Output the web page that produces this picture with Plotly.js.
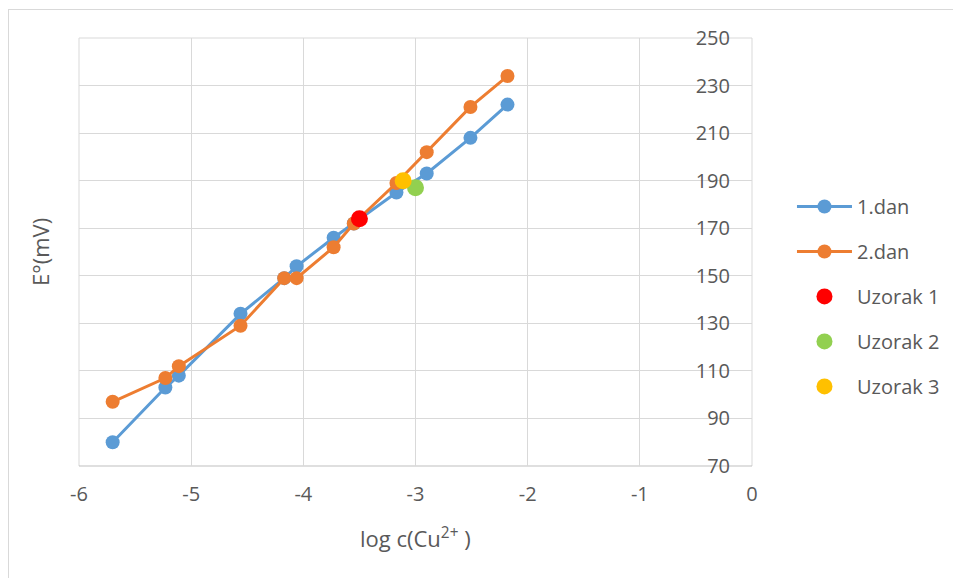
<!DOCTYPE html>
<html><head><meta charset="utf-8">
<script src="https://cdn.plot.ly/plotly-3.0.1.min.js"></script>
<style>
body{margin:0;background:#fff;}
#chart{position:absolute;left:0;top:0;width:953px;height:578px;}
#frame{position:absolute;left:8px;top:9px;width:1000px;height:700px;border-top:1px solid #D9D9D9;border-left:1px solid #D9D9D9;pointer-events:none;}
</style>
</head><body>
<div id="chart"></div><div id="frame"></div>
<script>
const logC = [-5.70, -5.23, -5.11, -4.56, -4.17, -4.06, -3.73, -3.55, -3.17, -2.90, -2.51, -2.18];
const dan1 = [80, 103, 108, 134, 149, 154, 166, 172, 185, 193, 208, 222];
const dan2 = [97, 107, 112, 129, 149, 149, 162, 172, 189, 202, 221, 234];
const uzorak1X = [-3.50], uzorak1Y = [174];
const uzorak2X = [-3.00], uzorak2Y = [187];
const uzorak3X = [-3.11], uzorak3Y = [190];
const xTickVals = [-6, -5, -4, -3, -2, -1, 0];
const xTickText = ['-6', '-5', '-4', '-3', '-2', '-1', '0'];
const yTickVals = [70, 90, 110, 130, 150, 170, 190, 210, 230, 250];

const FONT = 'Open Sans, sans-serif';
const traces = [
  {x: logC, y: dan1, name: '1.dan', mode: 'lines+markers', legendgroup: 'a',
   line: {color: '#5B9BD5', width: 3}, marker: {color: '#5B9BD5', size: 14}},
  {x: logC, y: dan2, name: '2.dan', mode: 'lines+markers', legendgroup: 'b',
   line: {color: '#ED7D31', width: 3}, marker: {color: '#ED7D31', size: 14}},
  {x: uzorak1X, y: uzorak1Y, name: 'Uzorak 1', mode: 'markers', legendgroup: 'c',
   marker: {color: '#FF0000', size: 17}},
  {x: uzorak2X, y: uzorak2Y, name: 'Uzorak 2', mode: 'markers', legendgroup: 'd',
   marker: {color: '#92D050', size: 17}},
  {x: uzorak3X, y: uzorak3Y, name: 'Uzorak 3', mode: 'markers', legendgroup: 'e',
   marker: {color: '#FFC000', size: 17}}
];

const layout = {
  width: 953, height: 578,
  margin: {l: 79, r: 201, t: 38, b: 112, pad: 0, autoexpand: false},
  paper_bgcolor: 'rgba(0,0,0,0)', plot_bgcolor: '#fff',
  font: {family: FONT, color: '#595959', size: 20},
  showlegend: true,
  legend: {x: 1.0594, xanchor: 'left', y: 0.652, yanchor: 'top', tracegroupgap: 16,
           itemwidth: 55, font: {family: FONT, size: 20, color: '#595959'},
           bgcolor: 'rgba(0,0,0,0)'},
  xaxis: {range: [-6, 0], tickvals: xTickVals, ticktext: xTickText,
          showgrid: true, gridcolor: '#D9D9D9', gridwidth: 1,
          showline: false, zeroline: false, ticks: '', ticklabelstandoff: 14,
          tickfont: {family: FONT, size: 20, color: '#595959'}},
  yaxis: {range: [70, 250], tickvals: yTickVals, side: 'left',
          anchor: 'free', position: 1, ticklabelstandoff: 22,
          showgrid: true, gridcolor: '#D9D9D9', gridwidth: 1,
          showline: false, zeroline: false, ticks: '',
          tickfont: {family: FONT, size: 20, color: '#595959'}},
  shapes: [
    {type: 'line', xref: 'paper', yref: 'paper', x0: 0, x1: 1, y0: 1, y1: 1, layer: 'below',
     line: {color: '#D9D9D9', width: 1}},
    {type: 'line', xref: 'paper', yref: 'paper', x0: 0, x1: 0, y0: 0, y1: 1, layer: 'below',
     line: {color: '#D9D9D9', width: 1}},
    {type: 'line', xref: 'paper', yref: 'paper', x0: 1, x1: 1, y0: 0, y1: 1, layer: 'below',
     line: {color: '#D9D9D9', width: 1}},
    {type: 'line', xref: 'paper', yref: 'paper', x0: 0, x1: 1, y0: 0, y1: 0, layer: 'below',
     line: {color: '#BFBFBF', width: 1}}
  ],
  annotations: [
    {text: 'E°(mV)', textangle: -90, xref: 'paper', yref: 'paper',
     x: -0.058, y: 0.5, xanchor: 'center', yanchor: 'middle', showarrow: false,
     font: {family: FONT, size: 22, color: '#595959'}},
    {text: 'log c(Cu<sup>2+</sup> )', xref: 'paper', yref: 'paper',
     x: 0.5, y: -0.166, xanchor: 'center', yanchor: 'middle', showarrow: false,
     font: {family: FONT, size: 22, color: '#595959'}}
  ]
};

Plotly.newPlot('chart', traces, layout, {displayModeBar: false, staticPlot: true});
</script>
</body></html>
